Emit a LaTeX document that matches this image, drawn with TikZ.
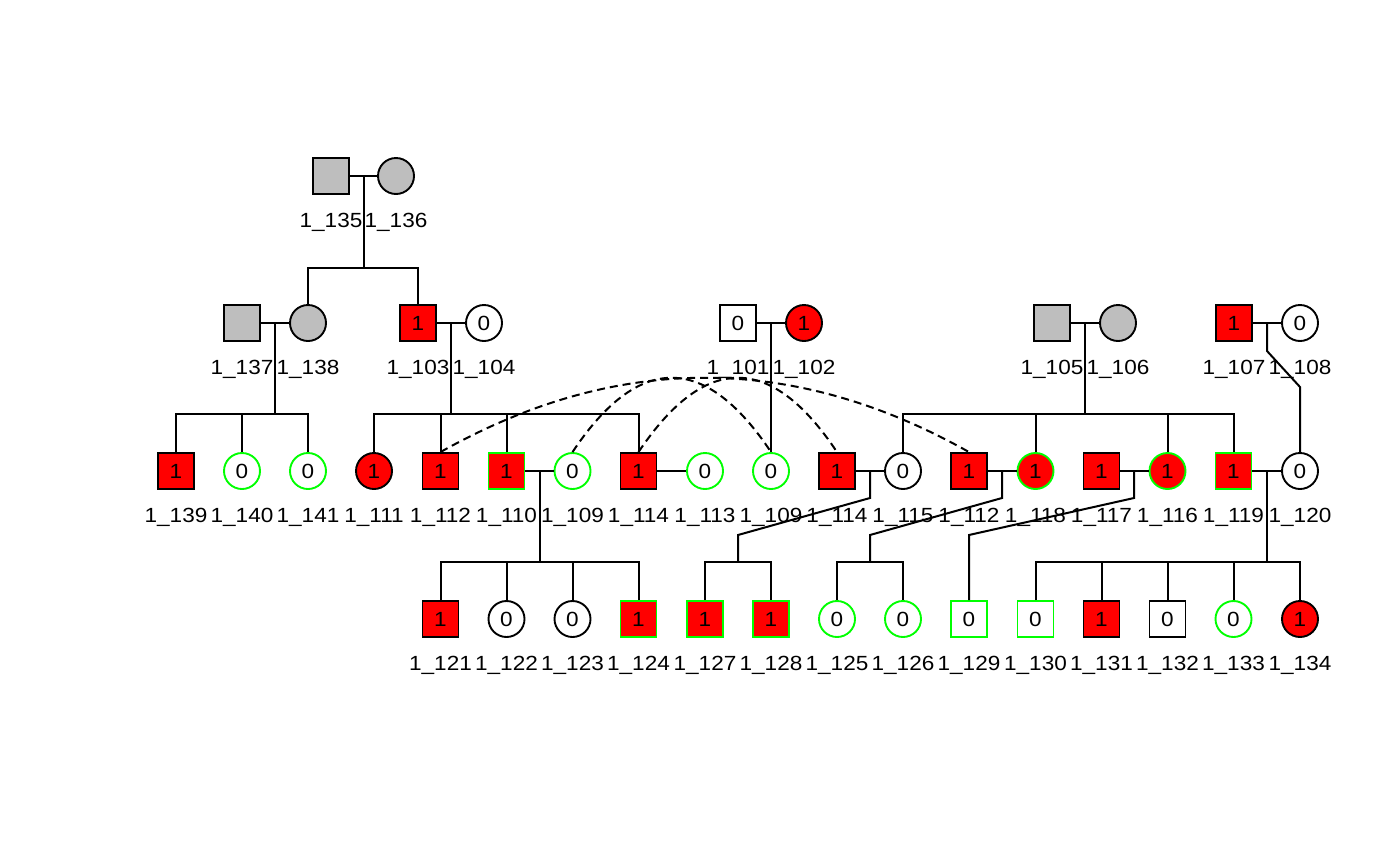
\documentclass[tikz,border=0pt]{standalone}
\usepackage{fontspec}
\setmainfont{Liberation Sans}[FakeStretch=1.1]
\definecolor{pgray}{RGB}{190,190,190}
\definecolor{pgreen}{RGB}{0,255,0}
\definecolor{pred}{RGB}{255,0,0}
\newcommand\pers[6]{%
  \node[#4] (#1) at (#2,#3) {#5};
  \node[lab,anchor=base] (#1l) at (#2,#3+51) {#6};}
\begin{document}
\begin{tikzpicture}[x=1pt,y=-1pt,
  font=\fontsize{20.5}{24}\selectfont,
  base/.style={minimum size=36pt, inner sep=0pt, line width=1.9pt, draw=black},
  sq/.style={base, rectangle},
  ci/.style={base, circle},
  rd/.style={fill=pred},
  gy/.style={fill=pgray},
  wt/.style={fill=white},
  gb/.style={draw=pgreen},
  lab/.style={inner sep=0pt},
  ln/.style={line width=2pt},
  dsh/.style={line width=2pt, dash pattern=on 8pt off 5pt}]
\useasboundingbox (0,0) rectangle (1400,865);
\fill[white] (0,0) rectangle (1400,865);

% generation 1
\pers{p135}{331}{176}{sq,gy}{}{1\_135}
\pers{p136}{396}{176}{ci,gy}{}{1\_136}

% generation 2
\pers{p137}{242}{323}{sq,gy}{}{1\_137}
\pers{p138}{308}{323}{ci,gy}{}{1\_138}
\pers{p103}{418}{323}{sq,rd}{1}{1\_103}
\pers{p104}{484}{323}{ci,wt}{0}{1\_104}
\pers{p101}{738}{323}{sq,wt}{0}{1\_101}
\pers{p102}{804}{323}{ci,rd}{1}{1\_102}
\pers{p105}{1052}{323}{sq,gy}{}{1\_105}
\pers{p106}{1118}{323}{ci,gy}{}{1\_106}
\pers{p107}{1234}{323}{sq,rd}{1}{1\_107}
\pers{p108}{1300}{323}{ci,wt}{0}{1\_108}

% generation 3
\pers{p139}{176}{471}{sq,rd}{1}{1\_139}
\pers{p140}{242}{471}{ci,wt,gb}{0}{1\_140}
\pers{p141}{308}{471}{ci,wt,gb}{0}{1\_141}
\pers{p111}{374}{471}{ci,rd}{1}{1\_111}
\pers{p112a}{440.5}{471}{sq,rd}{1}{1\_112}
\pers{p110}{506.5}{471}{sq,rd,gb}{1}{1\_110}
\pers{p109a}{572.5}{471}{ci,wt,gb}{0}{1\_109}
\pers{p114a}{638.5}{471}{sq,rd}{1}{1\_114}
\pers{p113}{705}{471}{ci,wt,gb}{0}{1\_113}
\pers{p109b}{771}{471}{ci,wt,gb}{0}{1\_109}
\pers{p114b}{837}{471}{sq,rd}{1}{1\_114}
\pers{p115}{903}{471}{ci,wt}{0}{1\_115}
\pers{p112b}{969}{471}{sq,rd}{1}{1\_112}
\pers{p118}{1035.5}{471}{ci,rd,gb}{1}{1\_118}
\pers{p117}{1101.5}{471}{sq,rd}{1}{1\_117}
\pers{p116}{1167.5}{471}{ci,rd,gb}{1}{1\_116}
\pers{p119}{1233.5}{471}{sq,rd,gb}{1}{1\_119}
\pers{p120}{1300}{471}{ci,wt}{0}{1\_120}

% generation 4
\pers{p121}{440.5}{619}{sq,rd}{1}{1\_121}
\pers{p122}{506.5}{619}{ci,wt}{0}{1\_122}
\pers{p123}{572.5}{619}{ci,wt}{0}{1\_123}
\pers{p124}{638.5}{619}{sq,rd,gb}{1}{1\_124}
\pers{p127}{705}{619}{sq,rd,gb}{1}{1\_127}
\pers{p128}{771}{619}{sq,rd,gb}{1}{1\_128}
\pers{p125}{837}{619}{ci,wt,gb}{0}{1\_125}
\pers{p126}{903}{619}{ci,wt,gb}{0}{1\_126}
\pers{p129}{969}{619}{sq,wt,gb}{0}{1\_129}
\pers{p130}{1035.5}{619}{sq,wt,gb}{0}{1\_130}
\pers{p131}{1101.5}{619}{sq,rd}{1}{1\_131}
\pers{p132}{1167.5}{619}{sq,wt}{0}{1\_132}
\pers{p133}{1233.5}{619}{ci,wt,gb}{0}{1\_133}
\pers{p134}{1300}{619}{ci,rd}{1}{1\_134}

% marriages
\foreach \a/\b in {p135/p136,p137/p138,p103/p104,p101/p102,p105/p106,p107/p108,
  p110/p109a,p114a/p113,p114b/p115,p112b/p118,p117/p116,p119/p120}
  \draw[ln] (\a.east) -- (\b.west);

% family 135/136
\coordinate (m1) at (363.5,176);
\coordinate (s1) at (363.5,268);
\draw[ln] (m1) -- (s1);
\draw[ln] (p138.north) |- (s1) -| (p103.north);

% family 137/138
\coordinate (m2) at (275,323);
\coordinate (s2) at (275,414);
\draw[ln] (m2) -- (s2);
\draw[ln] (p139.north) |- (s2) -| (p141.north);
\draw[ln] (p140.north) -- (p140.north |- s2);

% family 103/104
\coordinate (m3) at (451,323);
\coordinate (s3) at (451,414);
\draw[ln] (m3) -- (s3);
\draw[ln] (p111.north) |- (s3) -| (p114a.north);
\draw[ln] (p112a.north) -- (p112a.north |- s3);
\draw[ln] (p110.north) -- (p110.north |- s3);

% family 101/102
\coordinate (m4) at (771,323);
\draw[ln] (m4) -- (p109b.north);

% family 105/106
\coordinate (m5) at (1085,323);
\coordinate (s5) at (1085,414);
\draw[ln] (m5) -- (s5);
\draw[ln] (p115.north) |- (s5) -| (p119.north);
\draw[ln] (p118.north) -- (p118.north |- s5);
\draw[ln] (p116.north) -- (p116.north |- s5);

% family 107/108
\coordinate (m6) at (1267,323);
\draw[ln] (m6) -- (1267,351) -- (1300,387) -- (p120.north);

% family 110/109
\coordinate (m7) at (540,471);
\coordinate (s7) at (540,562);
\draw[ln] (m7) -- (s7);
\draw[ln] (p121.north) |- (s7) -| (p124.north);
\draw[ln] (p122.north) -- (p122.north |- s7);
\draw[ln] (p123.north) -- (p123.north |- s7);

% family 114/115
\coordinate (m8) at (870,471);
\coordinate (s8) at (738,562);
\draw[ln] (m8) -- (870,498) -- (738,535) -- (s8);
\draw[ln] (p127.north) |- (s8) -| (p128.north);

% family 112/118
\coordinate (m9) at (1002,471);
\coordinate (s9) at (870,562);
\draw[ln] (m9) -- (1002,498) -- (870,535) -- (s9);
\draw[ln] (p125.north) |- (s9) -| (p126.north);

% family 117/116
\coordinate (m10) at (1134,471);
\draw[ln] (m10) -- (1134,498) -- (969,535) -- (p129.north);

% family 119/120
\coordinate (m11) at (1267,471);
\coordinate (s11) at (1267,562);
\draw[ln] (m11) -- (s11);
\draw[ln] (p130.north) |- (s11) -| (p134.north);
\foreach \c in {p131,p132,p133}
  \draw[ln] (\c.north) -- (\c.north |- s11);

% duplicate-individual arcs
\draw[dsh] (p112a.north) .. controls (616.5,353) and (793,353) .. (p112b.north);
\draw[dsh] (p109a.north) .. controls (638.5,353) and (705,353) .. (p109b.north);
\draw[dsh] (p114a.north) .. controls (705,353) and (771,353) .. (p114b.north);
\end{tikzpicture}
\end{document}
